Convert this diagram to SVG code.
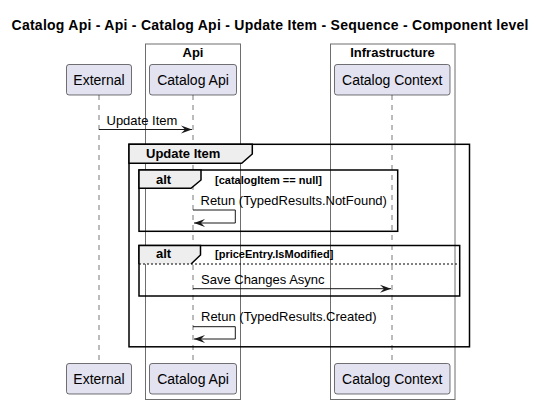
<svg xmlns="http://www.w3.org/2000/svg" width="547" height="404" viewBox="0 0 547 404">
  <defs>
    <style>
      .title { font-family: "Liberation Sans", Arial, sans-serif; font-size: 14px; font-weight: bold; fill: #000; }
      .grp { fill: none; stroke: #6e6e6e; stroke-width: 1; }
      .grplabel { font-family: "Liberation Sans", Arial, sans-serif; font-size: 13px; font-weight: bold; fill: #000; text-anchor: middle; }
      .box { fill: #E2E2F0; stroke: #181818; stroke-width: 0.6; }
      .plabel { font-family: "Liberation Sans", Arial, sans-serif; font-size: 14px; fill: #000; text-anchor: middle; }
      .life { stroke: #555; stroke-width: 0.8; stroke-dasharray: 5 5; fill: none; }
      .frame { fill: none; stroke: #000; stroke-width: 1.5; }
      .tab { fill: #EEEEEE; stroke: #000; stroke-width: 1.5; }
      .flabel { font-family: "Liberation Sans", Arial, sans-serif; font-size: 13px; font-weight: bold; fill: #000; }
      .cond { font-family: "Liberation Sans", Arial, sans-serif; font-size: 11px; font-weight: bold; fill: #000; }
      .msg { stroke: #181818; stroke-width: 1; fill: none; }
      .mlabel { font-family: "Liberation Sans", Arial, sans-serif; font-size: 13px; fill: #000; }
    </style>
    <marker id="arrow" viewBox="0 0 12 10" refX="11" refY="5" markerWidth="12" markerHeight="10" markerUnits="userSpaceOnUse" orient="auto">
      <path d="M0,1 L11,5 L0,9 L4,5 Z" fill="#181818"/>
    </marker>
  </defs>

  <rect width="547" height="404" fill="#fff"/>

  <text class="title" x="11.5" y="30" textLength="517" lengthAdjust="spacing">Catalog Api - Api - Catalog Api - Update Item - Sequence - Component level</text>

  <!-- boxes grouping participants -->
  <g id="group-api">
    <rect class="grp" x="145.5" y="44" width="95" height="355.5"/>
    <text class="grplabel" x="193" y="57">Api</text>
  </g>
  <g id="group-infrastructure">
    <rect class="grp" x="330.5" y="44" width="124.5" height="355.5"/>
    <text class="grplabel" x="392.5" y="57">Infrastructure</text>
  </g>

  <!-- lifelines -->
  <g id="lifelines">
    <line class="life" x1="99" y1="95" x2="99" y2="363.5"/>
    <line class="life" x1="193" y1="95" x2="193" y2="363.5"/>
    <line class="life" x1="392" y1="95" x2="392" y2="363.5"/>
  </g>

  <!-- combined fragments -->
  <g id="frame-update-item">
    <rect class="frame" x="129" y="144.3" width="340.5" height="202.5"/>
    <path class="tab" d="M129,144.3 H252.3 V154 L241.7,163.3 H129 Z"/>
    <text class="flabel" x="146" y="158.3">Update Item</text>
  </g>
  <g id="frame-alt-1">
    <rect class="frame" x="139" y="170" width="258.7" height="61.3"/>
    <path class="tab" d="M139,170 H201 V180 L191,188.3 H139 Z"/>
    <text class="flabel" x="156" y="184.3">alt</text>
    <text class="cond" x="215" y="184.3">[catalogItem == null]</text>
  </g>
  <g id="frame-alt-2">
    <rect class="frame" x="139" y="245.5" width="320.7" height="50.5"/>
    <path d="M139,264 V245.5 H200.5 V255 L191,264 Z" fill="#EEEEEE" stroke="none"/>
    <path class="frame" d="M139,264 V245.5 H200.5 V255 L191,264"/>
    <line x1="139" y1="264" x2="459.7" y2="264" stroke="#000" stroke-width="1" stroke-dasharray="2 2"/>
    <text class="flabel" x="156" y="258">alt</text>
    <text class="cond" x="215" y="258">[priceEntry.IsModified]</text>
  </g>

  <!-- messages -->
  <g id="connectors">
    <line class="msg" x1="99" y1="129.5" x2="192" y2="129.5" marker-end="url(#arrow)"/>
    <text class="mlabel" x="106.5" y="125">Update Item</text>

    <polyline class="msg" points="193,210 235.3,210 235.3,223 194,223" marker-end="url(#arrow)"/>
    <text class="mlabel" x="200.5" y="205">Retun (TypedResults.NotFound)</text>

    <line class="msg" x1="193" y1="288.7" x2="391" y2="288.7" marker-end="url(#arrow)"/>
    <text class="mlabel" x="201" y="284">Save Changes Async</text>

    <polyline class="msg" points="193,326.7 235.3,326.7 235.3,339 194,339" marker-end="url(#arrow)"/>
    <text class="mlabel" x="201" y="320.5">Retun (TypedResults.Created)</text>
  </g>

  <!-- participants -->
  <g id="external">
    <rect class="box" x="66.5" y="64.5" width="65" height="30.5" rx="2.5"/>
    <text class="plabel" x="99" y="84.5">External</text>
    <rect class="box" x="66.5" y="363.5" width="65" height="30.5" rx="2.5"/>
    <text class="plabel" x="99" y="383.5">External</text>
  </g>
  <g id="catalog-api">
    <rect class="box" x="149.5" y="64.5" width="87" height="30.5" rx="2.5"/>
    <text class="plabel" x="193" y="84.5">Catalog Api</text>
    <rect class="box" x="149.5" y="363.5" width="87" height="30.5" rx="2.5"/>
    <text class="plabel" x="193" y="383.5">Catalog Api</text>
  </g>
  <g id="catalog-context">
    <rect class="box" x="334.5" y="64.5" width="115.5" height="30.5" rx="2.5"/>
    <text class="plabel" x="392.25" y="84.5">Catalog Context</text>
    <rect class="box" x="334.5" y="363.5" width="115.5" height="30.5" rx="2.5"/>
    <text class="plabel" x="392.25" y="383.5">Catalog Context</text>
  </g>
</svg>
